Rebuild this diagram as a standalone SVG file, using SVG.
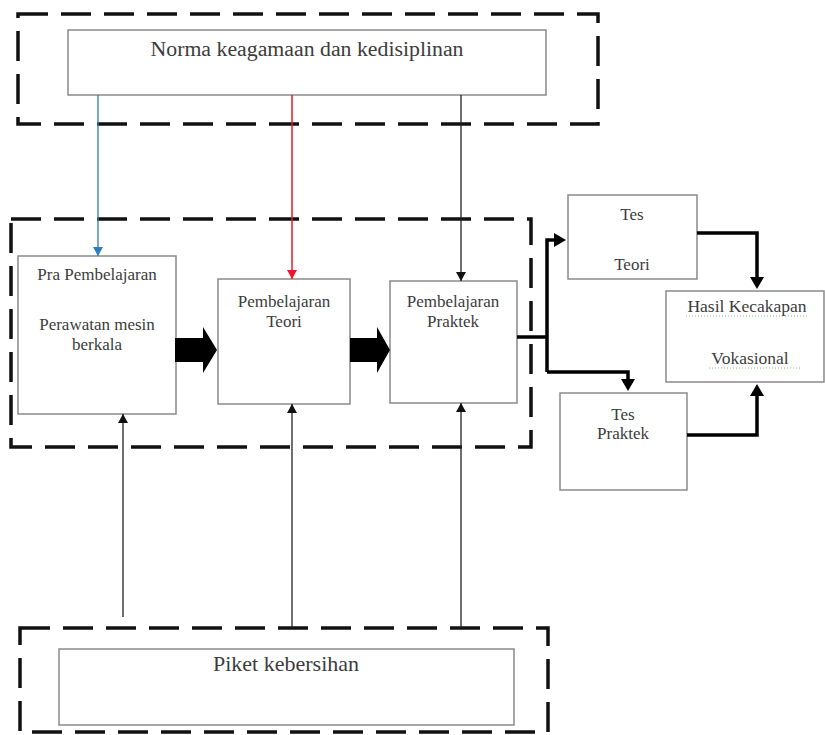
<svg xmlns="http://www.w3.org/2000/svg" width="825" height="735" viewBox="0 0 825 735">
<style>
.dash{fill:none;stroke:#111;stroke-width:3.5;stroke-dasharray:30 13}
.box{fill:#fff;stroke:#8a8a8a;stroke-width:1.5}
.t{fill:#3c3c3c;text-anchor:middle}
.s16{font-size:17px}
.thin{fill:none;stroke:#222;stroke-width:1.3}
.thick{fill:none;stroke:#000;stroke-width:3.5}
.ul{stroke:#7fbf7f;stroke-width:1;stroke-dasharray:1 2}
</style>
<defs>
<marker id="ak" markerWidth="10" markerHeight="10" refX="9" refY="5" orient="auto" markerUnits="userSpaceOnUse"><path d="M0,0 L9,5 L0,10 Z" fill="#111"/></marker>
<marker id="ab" markerWidth="10" markerHeight="10" refX="9" refY="5" orient="auto" markerUnits="userSpaceOnUse"><path d="M0,0 L9,5 L0,10 Z" fill="#2e7dc0"/></marker>
<marker id="ar" markerWidth="10" markerHeight="10" refX="9" refY="5" orient="auto" markerUnits="userSpaceOnUse"><path d="M0,0 L9,5 L0,10 Z" fill="#e8192c"/></marker>
<marker id="aT" markerWidth="12" markerHeight="14" refX="4" refY="7" orient="auto" markerUnits="userSpaceOnUse"><path d="M0,0 L12,7 L0,14 Z" fill="#000"/></marker>
</defs>

<g id="frames">
<rect class="dash" x="18" y="14" width="580" height="110"/>
<rect class="dash" x="11" y="219" width="520" height="228"/>
<rect class="dash" x="20" y="628" width="528" height="104"/>
</g>

<g font-family="Liberation Serif, Times New Roman, serif">
<g id="norma">
<rect class="box" x="68" y="30" width="478" height="65"/>
<text class="t" x="307" y="56" font-size="20" textLength="313" lengthAdjust="spacingAndGlyphs">Norma keagamaan  dan kedisiplinan</text>
</g>

<g id="pra">
<rect class="box" x="18" y="256" width="158" height="158"/>
<text class="t s16" x="97" y="280">Pra Pembelajaran</text>
<text class="t s16" x="97" y="330">Perawatan mesin</text>
<text class="t s16" x="97" y="350">berkala</text>
</g>

<g id="teori">
<rect class="box" x="218" y="279" width="132" height="125"/>
<text class="t s16" x="284" y="307">Pembelajaran</text>
<text class="t s16" x="284" y="327">Teori</text>
</g>

<g id="praktek">
<rect class="box" x="390" y="281" width="127" height="122"/>
<text class="t s16" x="453" y="307">Pembelajaran</text>
<text class="t s16" x="453" y="327">Praktek</text>
</g>

<g id="tesTeori">
<rect class="box" x="568" y="195" width="129" height="84"/>
<text class="t s16" x="632" y="220">Tes</text>
<text class="t s16" x="632" y="270">Teori</text>
</g>

<g id="tesPraktek">
<rect class="box" x="560" y="393" width="127" height="97"/>
<text class="t s16" x="623" y="420">Tes</text>
<text class="t s16" x="623" y="439">Praktek</text>
</g>

<g id="hasil">
<rect class="box" x="666" y="291" width="158" height="91"/>
<text class="t" x="747" y="312" font-size="17.5">Hasil  Kecakapan</text>
<line class="ul" x1="686" y1="316" x2="808" y2="316"/>
<text class="t" x="750" y="364" font-size="17.5">Vokasional</text>
<line class="ul" x1="709" y1="368" x2="802" y2="368"/>
</g>

<g id="piket">
<rect class="box" x="59" y="649" width="455" height="76"/>
<text class="t" x="286" y="671" font-size="22">Piket kebersihan</text>
</g>
</g>

<g id="connectors">
<line x1="98" y1="95" x2="98" y2="256" stroke="#2e7dc0" stroke-width="1.3" marker-end="url(#ab)"/>
<line x1="292" y1="95" x2="292" y2="279" stroke="#e8192c" stroke-width="1.5" marker-end="url(#ar)"/>
<line class="thin" x1="461" y1="95" x2="461" y2="281" marker-end="url(#ak)"/>
<line class="thin" x1="123" y1="617" x2="123" y2="414" marker-end="url(#ak)"/>
<line class="thin" x1="292" y1="628" x2="292" y2="404" marker-end="url(#ak)"/>
<line class="thin" x1="461" y1="628" x2="461" y2="403" marker-end="url(#ak)"/>
<polygon points="175,338 203,338 203,327 217,350 203,373 203,362 175,362" fill="#000"/>
<polygon points="350,338 377,338 377,327 390,350 377,373 377,362 350,362" fill="#000"/>
<path class="thick" d="M517,337 H547"/>
<path class="thick" d="M547,372 V240 H558" marker-end="url(#aT)"/>
<path class="thick" d="M547,372 H628 V383" marker-end="url(#aT)"/>
<path class="thick" d="M697,233 H757 V281" marker-end="url(#aT)"/>
<path class="thick" d="M687,435 H757 V392" marker-end="url(#aT)"/>
</g>
</svg>
